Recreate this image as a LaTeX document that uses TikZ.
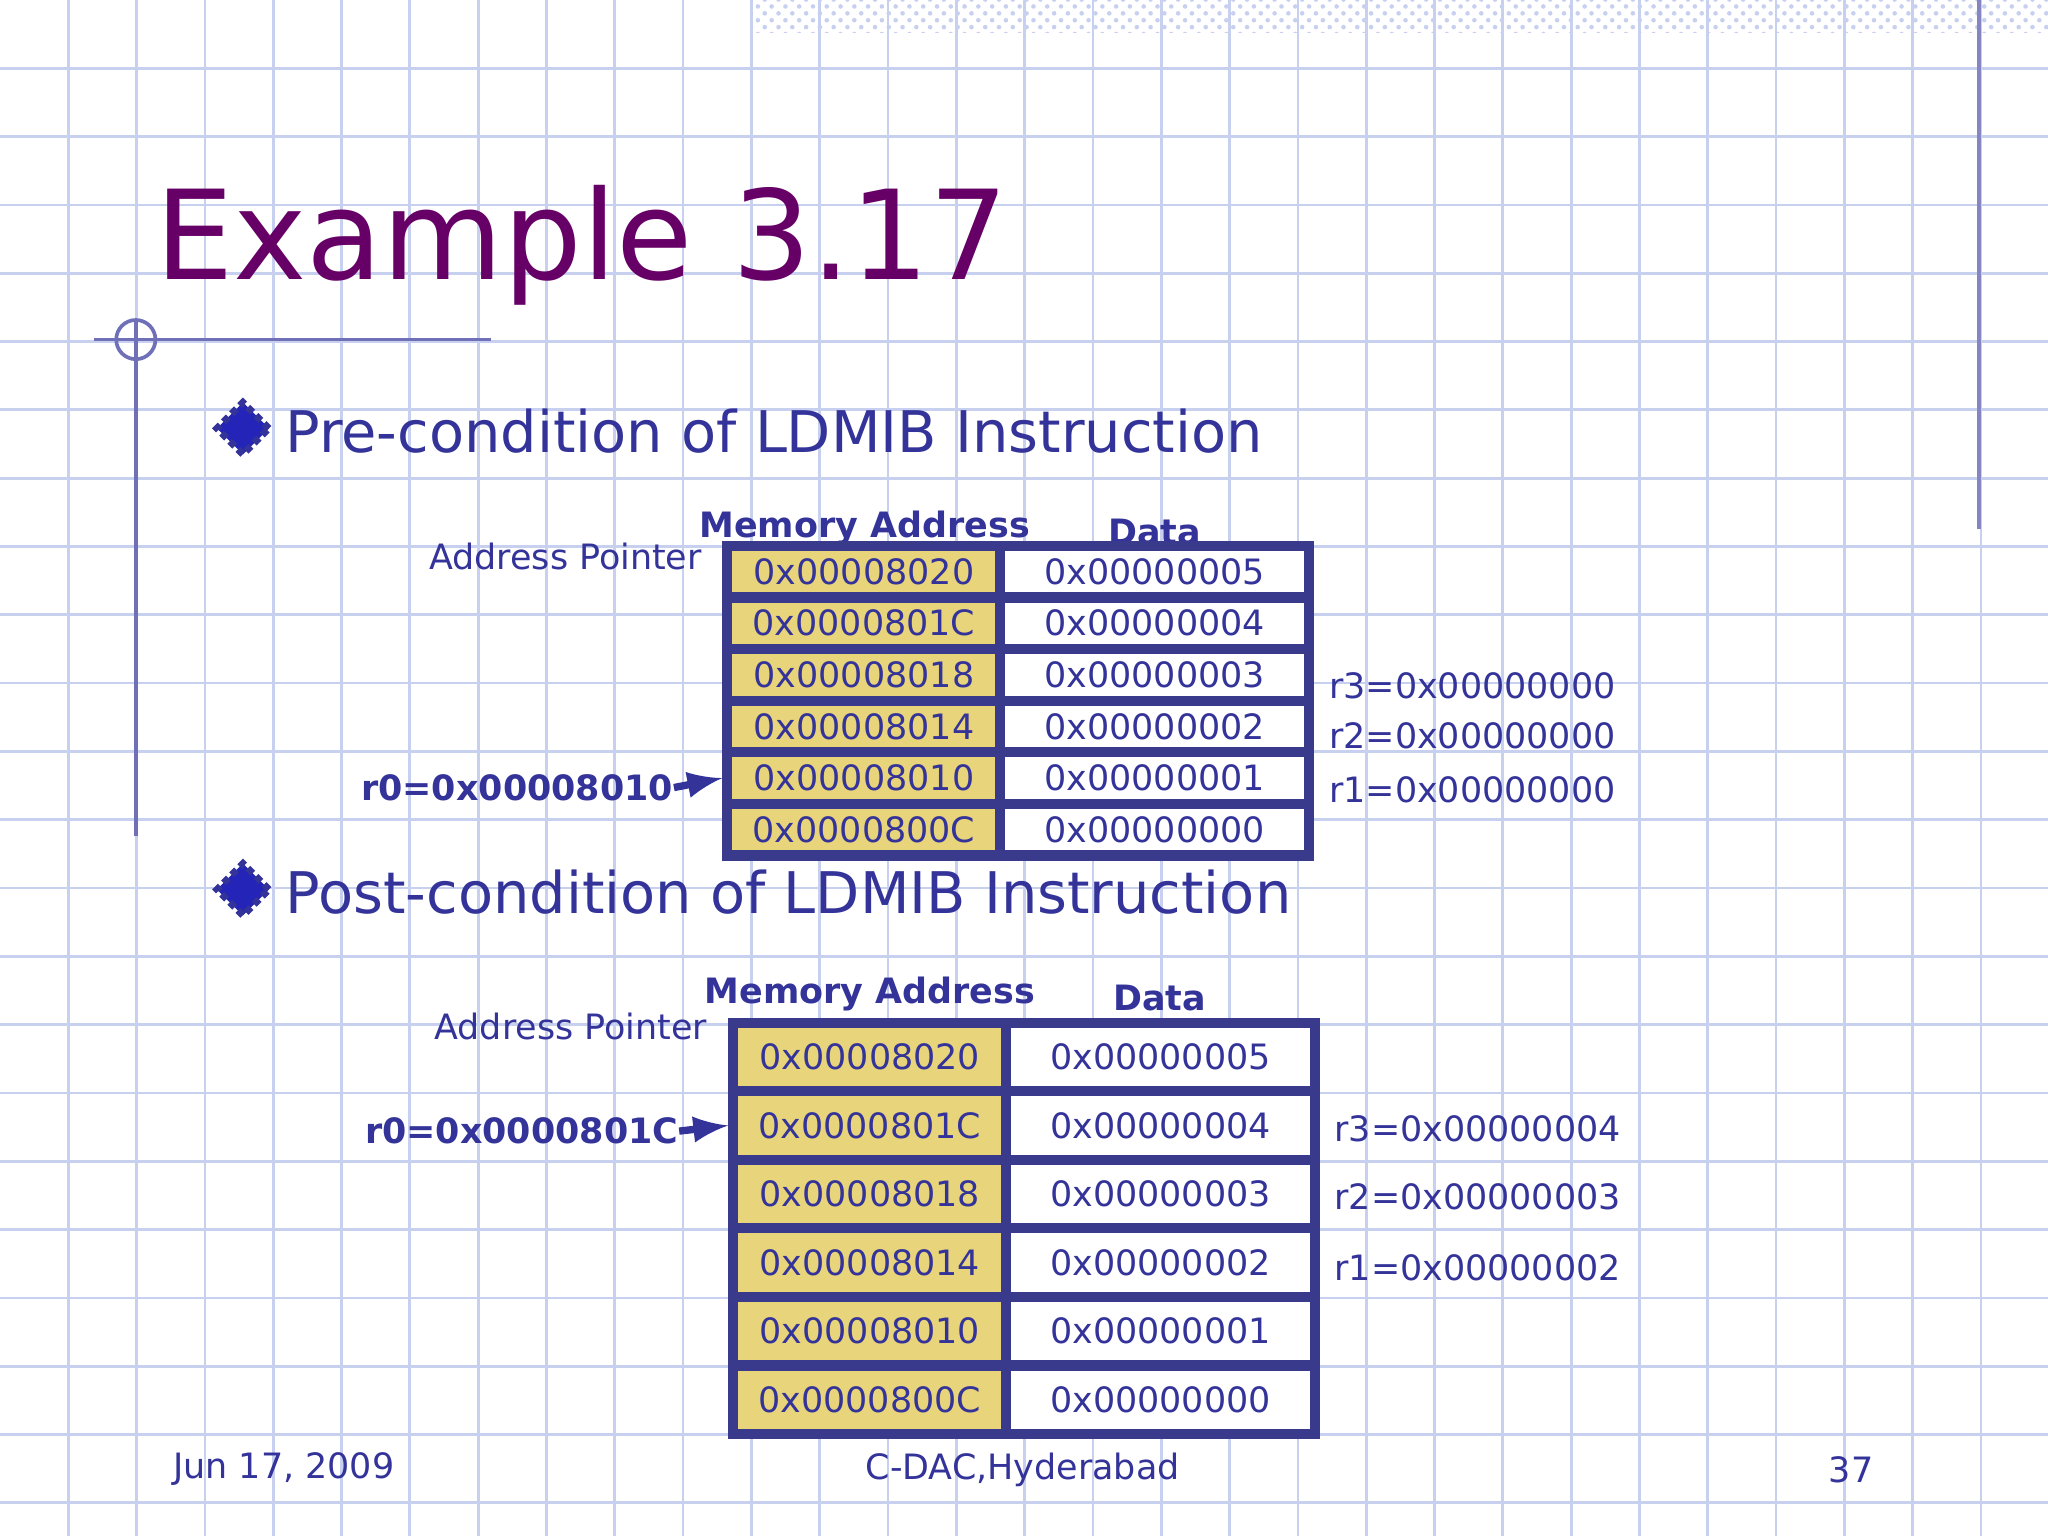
\documentclass[tikz,border=0pt]{standalone}
\usepackage{fontspec}
\setmainfont{DejaVu Sans}
\usetikzlibrary{shapes.geometric,patterns}
\definecolor{gridc}{HTML}{C8D0F0}
\definecolor{txt}{HTML}{333399}
\definecolor{ttl}{HTML}{660066}
\definecolor{addr}{HTML}{E8D47A}
\definecolor{bord}{HTML}{3A3A8C}
\tikzset{
 acell/.style={draw=bord,line width=2.2pt,fill=addr,minimum width=2.09cm,inner sep=0pt,font=\fontsize{7.6}{9}\selectfont,text=txt},
 dcell/.style={draw=bord,line width=2.2pt,fill=white,minimum width=2.36cm,inner sep=0pt,font=\fontsize{7.6}{9}\selectfont,text=txt},
 lbl/.style={font=\fontsize{7.6}{9}\selectfont,text=txt,inner sep=0pt},
 blbl/.style={font=\fontsize{7.6}{9}\selectfont\bfseries,text=txt,inner sep=0pt},
 bul/.style={diamond,fill=txt!70!blue,draw=txt,densely dotted,line width=1.5pt,minimum size=0.42cm,inner sep=0pt},
 head/.style={font=\fontsize{12.5}{15}\selectfont,text=txt,anchor=west,inner sep=0pt},
 arr/.style={-latex,line width=1.6pt,draw=txt}
}
\begin{document}
\begin{tikzpicture}[x=0.01cm,y=-0.01cm]
\useasboundingbox (0,0) rectangle (1568,1176);
\fill[white] (0,0) rectangle (1568,1176);
\foreach \i in {1,...,30} {\draw[gridc,line width=0.6pt] (\i*52.3,0) -- (\i*52.3,1176);}
\foreach \i in {1,...,22} {\draw[gridc,line width=0.6pt] (0,\i*52.3) -- (1568,\i*52.3);}
\fill[pattern=crosshatch dots,pattern color=gridc] (575,0) rectangle (1568,25);
\draw[txt!60,line width=0.8pt] (1515,0) -- (1515,405);
\draw[txt!70,line width=0.8pt] (72,260) -- (376,260);
\draw[txt!70,line width=0.8pt] (104,245) -- (104,640);
\draw[txt!70,line width=0.8pt] (104,260) circle (15);
\node[anchor=west,inner sep=0pt,text=ttl,font=\fontsize{27}{32}\selectfont] (title) at (118,188) {Example 3.17};
\node[bul] (b1) at (186,328) {};
\node[head] (h1) at (218,330) {Pre-condition of LDMIB Instruction};
\node[bul] (b2) at (186,681) {};
\node[head] (h2) at (218,683) {Post-condition of LDMIB Instruction};
% pre table
\node[blbl,anchor=south] (ma1) at (662,418) {Memory Address};
\node[blbl,anchor=south] (da1) at (884,418) {Data};
\node[lbl,anchor=east] (ap1) at (538,426) {Address Pointer};
\foreach \a/\d [count=\k from 0] in {00008020/00000005,0000801C/00000004,00008018/00000003,00008014/00000002,00008010/00000001,0000800C/00000000} {
 \node[acell,minimum height=0.395cm] (pa\k) at (661.5,437.7+\k*39.5) {0x\a};
 \node[dcell,minimum height=0.395cm] (pd\k) at (884,437.7+\k*39.5) {0x\d};
}
\node[blbl,anchor=east] (r01) at (516,603) {r0=0x00008010};
\draw[arr] (r01.east) -- (pa4.west);
\node[lbl,anchor=west] (r31) at (1017,525) {r3=0x00000000};
\node[lbl,anchor=west] (r21) at (1017,563) {r2=0x00000000};
\node[lbl,anchor=west] (r11) at (1017,605) {r1=0x00000000};
% post table
\node[blbl,anchor=south] (ma2) at (666,775) {Memory Address};
\node[blbl,anchor=south] (da2) at (888,775) {Data};
\node[lbl,anchor=east] (ap2) at (542,786) {Address Pointer};
\foreach \a/\d [count=\k from 0] in {00008020/00000005,0000801C/00000004,00008018/00000003,00008014/00000002,00008010/00000001,0000800C/00000000} {
 \node[acell,minimum height=0.525cm] (qa\k) at (666,809.2+\k*52.5) {0x\a};
 \node[dcell,minimum height=0.525cm] (qd\k) at (888.5,809.2+\k*52.5) {0x\d};
}
\node[blbl,anchor=east] (r02) at (520,866) {r0=0x0000801C};
\draw[arr] (r02.east) -- (qa1.west);
\node[lbl,anchor=west] (r32) at (1021,864) {r3=0x00000004};
\node[lbl,anchor=west] (r22) at (1021,916) {r2=0x00000003};
\node[lbl,anchor=west] (r12) at (1021,971) {r1=0x00000002};
\node[lbl,anchor=west] (f1) at (132,1125) {Jun 17, 2009};
\node[lbl] (f2) at (783,1125) {C-DAC,Hyderabad};
\node[lbl,anchor=east] (f3) at (1435,1125) {37};
\end{tikzpicture}
\end{document}
